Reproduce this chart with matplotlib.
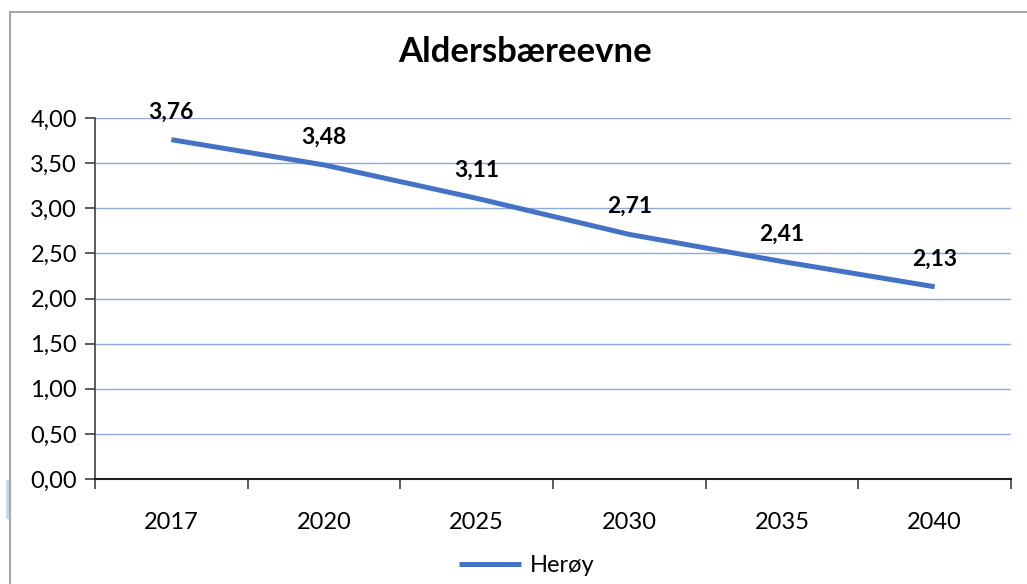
import numpy as np
import matplotlib.pyplot as plt
from matplotlib.patches import Rectangle
from matplotlib.ticker import FixedLocator, FuncFormatter

years = ['2017', '2020', '2025', '2030', '2035', '2040']
heroy = [3.76, 3.48, 3.11, 2.71, 2.41, 2.13]

plt.rcParams['font.family'] = ['Lato', 'DejaVu Sans']

W, H = 1027, 584
fig = plt.figure(figsize=(W / 100, H / 100), dpi=100)
ax = fig.add_axes([95 / W, 1 - 479 / H, (1011 - 95) / W, (479 - 118) / H])

x = np.arange(len(years)) + 0.5
ax.plot(x, heroy, color='#4472C4', lw=3.6, solid_capstyle='butt', label='Herøy')
for xi, v in zip(x, heroy):
    ax.annotate(f'{v:.2f}'.replace('.', ','), (xi, v), xytext=(0, 20),
                textcoords='offset points', ha='center', va='center',
                fontsize=16.5, fontweight='bold')

ax.set_xlim(0, len(years))
ax.set_ylim(0, 4)
ax.set_yticks(np.arange(0, 4.01, 0.5))
ax.yaxis.set_major_formatter(FuncFormatter(lambda v, p: f'{v:.2f}'.replace('.', ',')))
ax.xaxis.set_major_locator(FixedLocator(np.arange(len(years) + 1)))
ax.xaxis.set_minor_locator(FixedLocator(x))
ax.set_xticklabels([])
ax.set_xticklabels(years, minor=True)
ax.tick_params(axis='x', which='major', length=7, width=1.2, color='#404040', direction='out')
ax.tick_params(axis='x', which='minor', length=0, pad=24, labelsize=17)
ax.tick_params(axis='y', length=7, width=1.2, color='#404040', labelsize=17, pad=6)

ax.grid(axis='y', color='#8EA9DB', lw=1)
ax.set_axisbelow(True)
for s in ['top', 'right']:
    ax.spines[s].set_visible(False)
ax.spines['left'].set_color('#404040')
ax.spines['bottom'].set_color('#202020')
ax.spines['left'].set_linewidth(1.2)
ax.spines['bottom'].set_linewidth(1.5)

fig.text(525 / W, 1 - 52 / H, 'Aldersbæreevne', ha='center', va='center',
         fontsize=25, fontweight='bold')

fig.legend(loc='center', bbox_to_anchor=(527 / W, 1 - 566 / H), frameon=False,
           fontsize=17, handlelength=2.6, handletextpad=0.4)

# chart border and the small selection mark outside it
fig.patches.append(Rectangle((10 / W, -0.1), 1.2, 1 - 12 / H + 0.1,
                             transform=fig.transFigure, fill=False,
                             edgecolor='#A6A6A6', lw=1.5))
fig.patches.append(Rectangle((6 / W, 1 - 519 / H), 3 / W, 39 / H,
                             transform=fig.transFigure, facecolor='#C5D7EE',
                             edgecolor='none'))

fig.savefig('out.png', dpi=100)
